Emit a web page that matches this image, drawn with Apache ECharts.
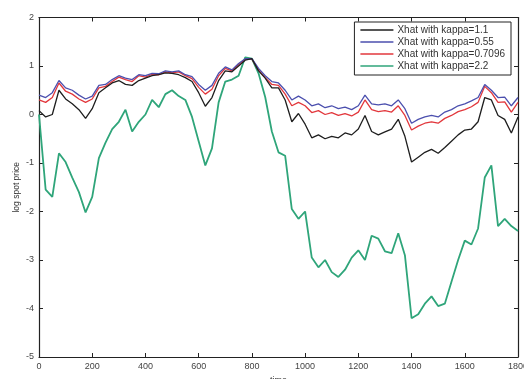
<!DOCTYPE html>
<html lang="en">
<head>
    <meta charset="UTF-8">
    <title>log spot price</title>
    <script src="https://cdn.jsdelivr.net/npm/echarts@6/dist/echarts.min.js"></script>
    <style>
        html, body { margin: 0; padding: 0; background: #fff; }
    </style>
</head>
<body>
<div id="main" style="width: 524px;height:379px;"></div>
<script type="text/javascript">
    // time axis, one reading every 25 steps
    var time = [0, 25, 50, 75, 100, 125, 150, 175, 200, 225, 250, 275, 300, 325, 350, 375, 400, 425, 450, 475,
        500, 525, 550, 575, 600, 625, 650, 675, 700, 725, 750, 775, 800, 825, 850, 875, 900, 925, 950, 975,
        1000, 1025, 1050, 1075, 1100, 1125, 1150, 1175, 1200, 1225, 1250, 1275, 1300, 1325, 1350, 1375, 1400, 1425, 1450, 1475,
        1500, 1525, 1550, 1575, 1600, 1625, 1650, 1675, 1700, 1725, 1750, 1775, 1800];

    var seriesNames = ['Xhat with kappa=1.1', 'Xhat with kappa=0.55', 'Xhat with kappa=0.7096', 'Xhat with kappa=2.2'];

    var kappa11 = [0.08, -0.05, 0.0, 0.5, 0.32, 0.22, 0.1, -0.08, 0.12, 0.45, 0.55, 0.65, 0.7, 0.62, 0.6, 0.7, 0.75, 0.8, 0.82, 0.86,
        0.85, 0.82, 0.76, 0.68, 0.45, 0.17, 0.35, 0.7, 0.9, 0.88, 1.0, 1.12, 1.15, 0.9, 0.75, 0.55, 0.55, 0.3, -0.15, 0.02,
        -0.2, -0.48, -0.42, -0.5, -0.45, -0.48, -0.38, -0.42, -0.3, -0.02, -0.35, -0.42, -0.36, -0.3, -0.1, -0.45, -0.98, -0.88, -0.78, -0.72,
        -0.8, -0.68, -0.55, -0.42, -0.32, -0.3, -0.15, 0.35, 0.3, -0.02, -0.1, -0.38, -0.05];

    var kappa055 = [0.4, 0.35, 0.45, 0.7, 0.55, 0.5, 0.4, 0.32, 0.38, 0.6, 0.62, 0.72, 0.8, 0.75, 0.72, 0.82, 0.8, 0.85, 0.84, 0.9,
        0.88, 0.9, 0.82, 0.78, 0.62, 0.5, 0.6, 0.85, 0.98, 0.92, 1.05, 1.15, 1.15, 0.95, 0.8, 0.68, 0.65, 0.5, 0.3, 0.38,
        0.3, 0.18, 0.22, 0.14, 0.18, 0.12, 0.15, 0.1, 0.18, 0.4, 0.22, 0.2, 0.22, 0.18, 0.3, 0.12, -0.18, -0.1, -0.05, -0.02,
        -0.05, 0.05, 0.1, 0.18, 0.22, 0.28, 0.35, 0.62, 0.5, 0.35, 0.36, 0.18, 0.35];

    var kappa07096 = [0.3, 0.25, 0.35, 0.65, 0.48, 0.42, 0.32, 0.25, 0.32, 0.55, 0.58, 0.68, 0.77, 0.72, 0.68, 0.8, 0.77, 0.83, 0.82, 0.88,
        0.86, 0.88, 0.8, 0.74, 0.56, 0.42, 0.52, 0.8, 0.95, 0.9, 1.03, 1.14, 1.14, 0.92, 0.76, 0.62, 0.6, 0.42, 0.18, 0.25,
        0.18, 0.04, 0.08, 0.0, 0.04, -0.02, 0.02, -0.03, 0.05, 0.3, 0.1, 0.06, 0.08, 0.05, 0.18, -0.02, -0.32, -0.24, -0.18, -0.15,
        -0.18, -0.08, -0.02, 0.06, 0.1, 0.16, 0.25, 0.58, 0.45, 0.25, 0.26, 0.05, 0.25];

    var kappa22 = [0.0, -1.55, -1.7, -0.8, -0.98, -1.3, -1.6, -2.02, -1.7, -0.9, -0.58, -0.3, -0.15, 0.1, -0.35, -0.15, 0.0, 0.3, 0.15, 0.42,
        0.5, 0.38, 0.3, -0.05, -0.55, -1.05, -0.7, 0.25, 0.68, 0.72, 0.8, 1.18, 1.15, 0.85, 0.36, -0.35, -0.78, -0.85, -1.95, -2.15,
        -2.0, -2.95, -3.15, -3.0, -3.25, -3.35, -3.2, -2.95, -2.8, -3.0, -2.5, -2.56, -2.82, -2.86, -2.45, -2.9, -4.2, -4.12, -3.9, -3.75,
        -3.95, -3.9, -3.45, -3.0, -2.6, -2.68, -2.35, -1.3, -1.05, -2.3, -2.15, -2.3, -2.4];

    var lineColors = ['#1e1e1e', '#4b4fae', '#e2373c', '#2fa57a'];

    function pairs(values) {
        var out = [];
        for (var i = 0; i < time.length; i++) {
            out.push([time[i], values[i]]);
        }
        return out;
    }

    var myChart = echarts.init(document.getElementById('main'));
    var font = 'Liberation Sans';
    var allValues = [kappa11, kappa055, kappa07096, kappa22];
    var series = [];
    for (var s = 0; s < allValues.length; s++) {
        series.push({
            name: seriesNames[s],
            type: 'line',
            data: pairs(allValues[s]),
            showSymbol: false,
            smooth: false,
            z: s == 3 ? 1 : 2 + (2 - s),
            lineStyle: { color: lineColors[s], width: s == 3 ? 1.8 : 1.3 },
            itemStyle: { color: lineColors[s] }
        });
    }

    var tickStyle = { show: true, inside: true, length: 4, lineStyle: { color: '#222', width: 1 } };
    var lineStyle = { show: true, onZero: false, lineStyle: { color: '#222', width: 1.2 } };
    var plain = function (v) { return String(v); };

    var option = {
        animation: false,
        textStyle: { fontFamily: font },
        grid: { left: 39, right: 6, top: 17.5, bottom: 22, containLabel: false, outerBoundsMode: 'none' },
        legend: {
            orient: 'vertical',
            right: 13,
            top: 22,
            padding: [3, 6, 4, 6],
            itemGap: 2,
            itemWidth: 33,
            itemHeight: 1.5,
            icon: 'rect',
            borderColor: '#222',
            borderWidth: 1,
            borderRadius: 0,
            backgroundColor: '#fff',
            textStyle: { fontSize: 10, color: '#333', fontFamily: font, lineHeight: 10, padding: [0, 0, 0, -1] },
            data: seriesNames
        },
        xAxis: [{
            type: 'value',
            min: 0, max: 1800, interval: 200,
            name: 'time',
            nameLocation: 'middle',
            nameGap: 18,
            nameTextStyle: { fontSize: 9, color: '#333' },
            axisLine: lineStyle,
            axisTick: tickStyle,
            splitLine: { show: false },
            axisLabel: { fontSize: 9, color: '#444', margin: 5, formatter: plain }
        }, {
            type: 'value',
            position: 'top',
            min: 0, max: 1800, interval: 200,
            axisLine: lineStyle,
            axisTick: tickStyle,
            splitLine: { show: false },
            axisLabel: { show: false }
        }],
        yAxis: [{
            type: 'value',
            min: -5, max: 2, interval: 1,
            name: 'log spot price',
            nameLocation: 'middle',
            nameRotate: 90,
            nameGap: 18,
            nameMoveOverlap: false,
            nameTextStyle: { fontSize: 8.5, color: '#333' },
            axisLine: lineStyle,
            axisTick: tickStyle,
            splitLine: { show: false },
            axisLabel: { fontSize: 9, color: '#444', margin: 5, formatter: plain }
        }, {
            type: 'value',
            position: 'right',
            min: -5, max: 2, interval: 1,
            axisLine: lineStyle,
            axisTick: tickStyle,
            splitLine: { show: false },
            axisLabel: { show: false }
        }],
        series: series
    };
    myChart.setOption(option);
</script>
</body>
</html>
